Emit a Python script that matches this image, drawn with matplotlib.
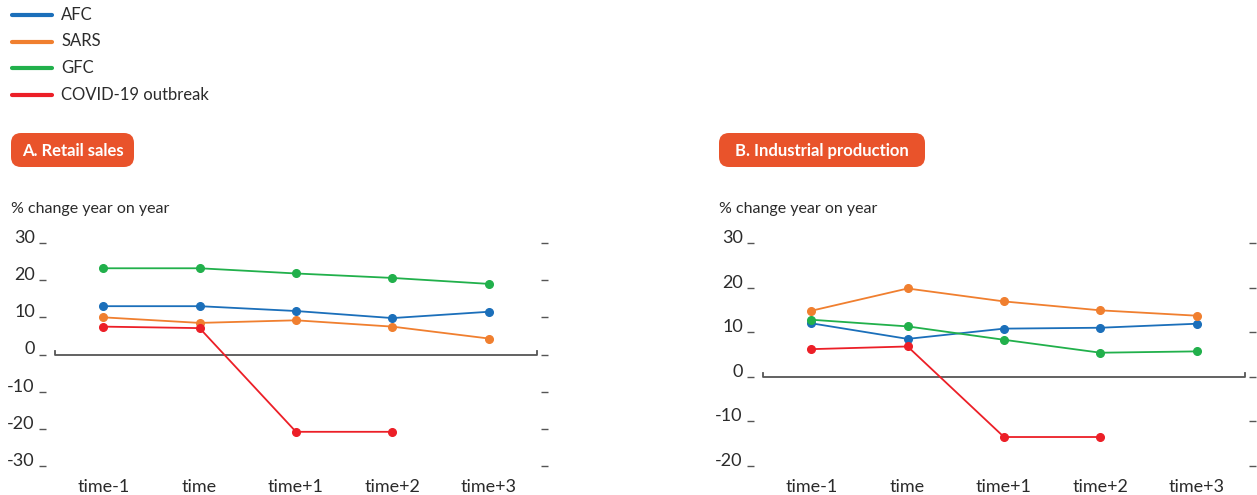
import matplotlib.pyplot as plt
from matplotlib.patches import FancyBboxPatch
import numpy as np

plt.rcParams['font.family'] = ['Lato', 'DejaVu Sans']

periods = ['time-1', 'time', 'time+1', 'time+2', 'time+3']
series_names = ['AFC', 'SARS', 'GFC', 'COVID-19 outbreak']
colors = ['#1b6fba', '#f07f2f', '#21b04b', '#ec1f27']

# A. Retail sales
retail_afc = [13.0, 13.0, 11.7, 9.8, 11.5]
retail_sars = [10.0, 8.5, 9.2, 7.5, 4.3]
retail_gfc = [23.2, 23.2, 21.8, 20.6, 19.0]
retail_covid = [7.5, 7.1, -20.8, -20.8, np.nan]

# B. Industrial production
indus_afc = [12.0, 8.5, 10.8, 11.0, 11.9]
indus_sars = [14.8, 19.8, 16.9, 14.9, 13.7]
indus_gfc = [12.8, 11.3, 8.3, 5.4, 5.7]
indus_covid = [6.2, 6.8, -13.5, -13.5, np.nan]

retail_ticks = [30, 20, 10, 0, -10, -20, -30]
indus_ticks = [30, 20, 10, 0, -10, -20]

W, H = 1257, 495
fig = plt.figure(figsize=(W / 100, H / 100), dpi=100)

text_col = '#2b2b2b'
axis_col = '#555555'
badge_col = '#e9532b'


def panel(left_px, title, title_w, data, ticks):
    ax = fig.add_axes([left_px / W, 1 - 466 / H, 482 / W, 223 / H])
    x = np.arange(len(periods))
    for vals, c in zip(data, colors):
        ax.plot(x, vals, color=c, lw=1.3, marker='o', ms=5.5, zorder=3)
    ax.set_xlim(-0.5, 4.5)
    ax.set_ylim(min(ticks), max(ticks))
    for s in ['top', 'bottom']:
        ax.spines[s].set_visible(False)
    ax.spines['left'].set_position(('outward', 6.5))
    ax.spines['right'].set_position(('outward', 3))
    ax.spines['left'].set_color('none')
    ax.spines['right'].set_color('none')
    ax.set_yticks(ticks)
    ax.set_yticklabels([str(t) for t in ticks])
    ax.tick_params(axis='y', which='both', left=True, right=True, labelright=False,
                   direction='out', length=5, width=1, color=axis_col,
                   labelsize=13, labelcolor=text_col, pad=3)
    for lab in ax.get_yticklabels():
        lab.set_verticalalignment('baseline')
    ax.set_xticks(x)
    ax.set_xticklabels(periods)
    ax.tick_params(axis='x', length=0, labelsize=13, labelcolor=text_col, pad=9)
    # zero line with small end caps
    ax.plot([-0.5, -0.5, 4.5, 4.5], [0.9, 0, 0, 0.9], color=axis_col, lw=1.3,
            zorder=2, clip_on=False)

    # title badge
    bx, by = 11 + (left_px - 55), 133
    fig.patches.append(FancyBboxPatch((bx / W, 1 - 167 / H), title_w / W, 34 / H,
                                      boxstyle='round,pad=0,rounding_size=0.008',
                                      transform=fig.transFigure, facecolor=badge_col,
                                      edgecolor='none', mutation_aspect=W / H))
    fig.text((bx + title_w / 2) / W, 1 - 151 / H, title, color='white', fontsize=12,
             fontweight='bold', va='center', ha='center')
    fig.text(bx / W, 1 - 209 / H, '% change year on year', color=text_col,
             fontsize=11.5, va='center', ha='left')
    return ax


panel(55, 'A. Retail sales', 123,
      [retail_afc, retail_sars, retail_gfc, retail_covid], retail_ticks)
panel(763, 'B. Industrial production', 206,
      [indus_afc, indus_sars, indus_gfc, indus_covid], indus_ticks)

# legend
for i, (name, c) in enumerate(zip(series_names, colors)):
    yy = 1 - (15 + i * 26.5) / H
    fig.add_artist(plt.Line2D([12 / W, 52 / W], [yy, yy], color=c, lw=3,
                              solid_capstyle='round', transform=fig.transFigure))
    fig.text(61 / W, yy, name, color=text_col, fontsize=12, va='center', ha='left')

fig.savefig('out.png', dpi=100)
